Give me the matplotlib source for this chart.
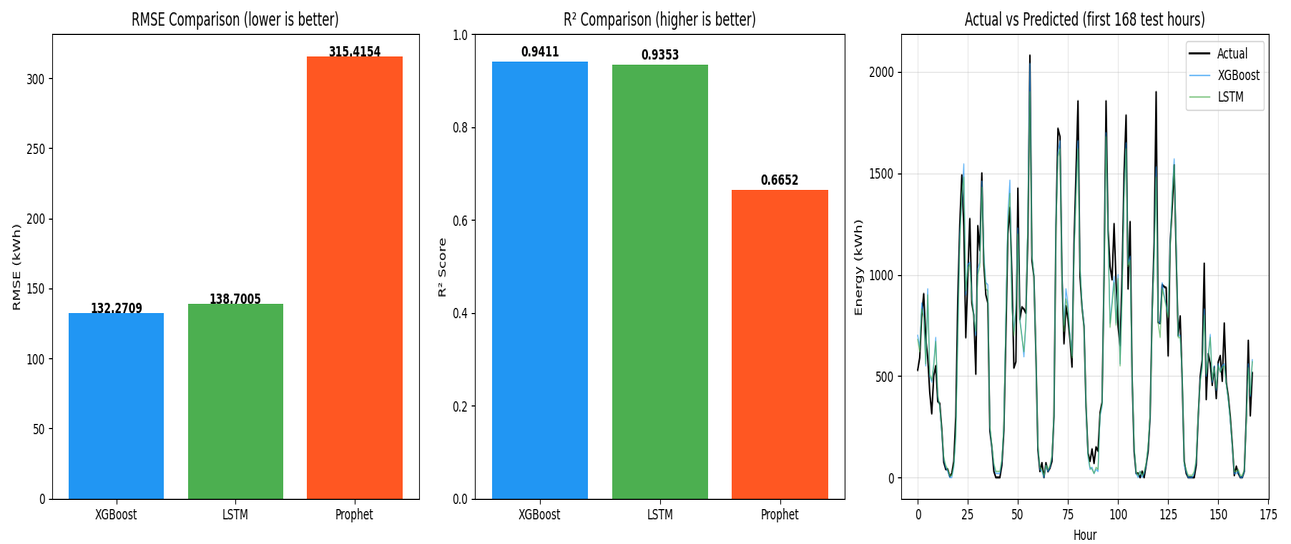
import io
import matplotlib
matplotlib.use("Agg")
import matplotlib.pyplot as plt
from PIL import Image

# ---- data -------------------------------------------------------------
models = ["XGBoost", "LSTM", "Prophet"]
rmse = [132.2709, 138.7005, 315.4154]
r2 = [0.9411, 0.9353, 0.6652]
bar_colors = ["#2196F3", "#4CAF50", "#FF5722"]

actual = [
    530, 590, 800, 905, 690, 590, 420, 315, 500, 550, 375, 365,
    240, 75, 40, 40, 5, 20, 80, 300, 880, 1250, 1490, 1240,
    690, 990, 1275, 860, 800, 510, 1240, 1120, 1500, 1050, 900, 860,
    230, 150, 30, 0, 0, 0, 60, 230, 700, 1200, 1330, 1000,
    540, 570, 1425, 780, 840, 830, 810, 1200, 2080, 1070, 990, 600,
    135, 30, 72, 0, 72, 29, 46, 80, 300, 1240, 1720, 1680,
    1000, 660, 845, 780, 680, 545, 1150, 1500, 1855, 990, 840, 745,
    350, 120, 80, 140, 70, 150, 130, 320, 370, 990, 1855, 1220,
    1040, 975, 1250, 960, 745, 650, 1000, 1500, 1785, 930, 1260, 500,
    130, 20, 20, 0, 30, 0, 60, 130, 300, 815, 1160, 1900,
    765, 760, 950, 940, 935, 600, 1160, 1330, 1540, 1100, 700, 795,
    480, 80, 20, 0, 0, 0, 0, 60, 300, 500, 580, 1055,
    385, 610, 560, 455, 545, 390, 570, 600, 475, 760, 470, 400,
    300, 165, 10, 55, 20, 0, 0, 30, 300, 675, 305, 515,
]

xgb_pred = [
    700, 640, 860, 800, 550, 930, 500, 470, 560, 690, 400, 350,
    220, 90, 50, 30, 0, 0, 50, 200, 700, 1200, 1350, 1545,
    900, 1050, 1060, 900, 800, 700, 1030, 1060, 1460, 1100, 960, 950,
    250, 150, 60, 20, 20, 20, 80, 250, 800, 1300, 1465, 850,
    720, 850, 1230, 780, 700, 595, 760, 1300, 2040, 1100, 1000, 600,
    150, 40, 30, 0, 60, 30, 50, 100, 300, 1260, 1600, 1660,
    1000, 750, 930, 850, 700, 600, 1100, 1400, 1660, 1050, 850, 750,
    350, 100, 40, 50, 20, 40, 30, 300, 350, 1000, 1700, 1200,
    760, 870, 990, 760, 1000, 560, 900, 1400, 1650, 1050, 1090, 500,
    150, 20, 0, 30, 0, 20, 60, 150, 300, 800, 1100, 1530,
    770, 760, 960, 900, 850, 800, 1150, 1400, 1570, 1150, 700, 700,
    500, 60, 30, 0, 0, 0, 20, 80, 300, 480, 550, 830,
    500, 600, 705, 470, 550, 430, 560, 520, 550, 560, 460, 380,
    280, 150, 20, 20, 30, 0, 0, 30, 280, 560, 400, 580,
]

lstm_pred = [
    680, 620, 830, 790, 560, 900, 510, 480, 550, 670, 410, 350,
    230, 100, 60, 40, 10, 10, 60, 210, 680, 1150, 1400, 1480,
    920, 1030, 1050, 880, 790, 720, 1000, 1040, 1430, 1080, 930, 920,
    260, 160, 70, 30, 30, 30, 90, 260, 780, 1250, 1400, 840,
    700, 830, 1200, 770, 690, 620, 770, 1280, 1900, 1100, 990, 610,
    160, 50, 40, 10, 60, 40, 60, 110, 310, 1230, 1580, 1620,
    980, 720, 880, 830, 690, 590, 1080, 1380, 1620, 1040, 840, 740,
    360, 110, 50, 40, 20, 50, 40, 310, 360, 980, 1680, 1180,
    740, 850, 960, 750, 980, 550, 880, 1380, 1620, 1040, 1070, 510,
    160, 30, 10, 30, 10, 30, 70, 160, 310, 780, 1080, 1480,
    760, 690, 930, 890, 840, 790, 1120, 1380, 1540, 1130, 690, 690,
    510, 70, 40, 10, 10, 10, 30, 90, 310, 470, 540, 800,
    510, 590, 690, 480, 540, 440, 550, 520, 540, 550, 460, 390,
    290, 160, 30, 30, 40, 10, 10, 40, 270, 540, 410, 570,
]

hours = list(range(len(actual)))

# ---- figure -------------------------------------------------------------
# Drawn on a wide canvas, then fitted into the 1291x544 frame.
fig = plt.figure(figsize=(18.05, 5.30), dpi=100)
bottom, height = 0.0835, 0.8533
ax1 = fig.add_axes([0.0403, bottom, 0.2843, height])
ax2 = fig.add_axes([0.3679, bottom, 0.2866, height])
ax3 = fig.add_axes([0.6979, bottom, 0.2851, height])

# RMSE bars
bars = ax1.bar(models, rmse, color=bar_colors)
for b, v in zip(bars, rmse):
    ax1.text(b.get_x() + b.get_width() / 2, v, f"{v:.4f}",
             ha="center", va="baseline", fontweight="bold", fontsize=10)
ax1.set_title("RMSE Comparison (lower is better)", fontsize=12)
ax1.set_ylabel("RMSE (kWh)")

# R2 bars
bars = ax2.bar(models, r2, color=bar_colors)
for b, v in zip(bars, r2):
    ax2.text(b.get_x() + b.get_width() / 2, v + 0.011, f"{v:.4f}",
             ha="center", va="baseline", fontweight="bold", fontsize=10)
ax2.set_ylim(0, 1.0)
ax2.set_title("R² Comparison (higher is better)", fontsize=12)
ax2.set_ylabel("R² Score")

# Time series
ax3.plot(hours, actual, color="black", lw=1.5, label="Actual")
ax3.plot(hours, xgb_pred, color="#2196F3", lw=1, alpha=0.7, label="XGBoost")
ax3.plot(hours, lstm_pred, color="#4CAF50", lw=1, alpha=0.7, label="LSTM")
ax3.set_title("Actual vs Predicted (first 168 test hours)", fontsize=12)
ax3.set_xlabel("Hour")
ax3.set_ylabel("Energy (kWh)")
ax3.grid(True, alpha=0.3)
ax3.legend(loc="upper right")

buf = io.BytesIO()
fig.savefig(buf, format="png", dpi=100)
buf.seek(0)
img = Image.open(buf).convert("RGB")
img = img.resize((1291, 544), Image.LANCZOS)
img.save("out.png")
